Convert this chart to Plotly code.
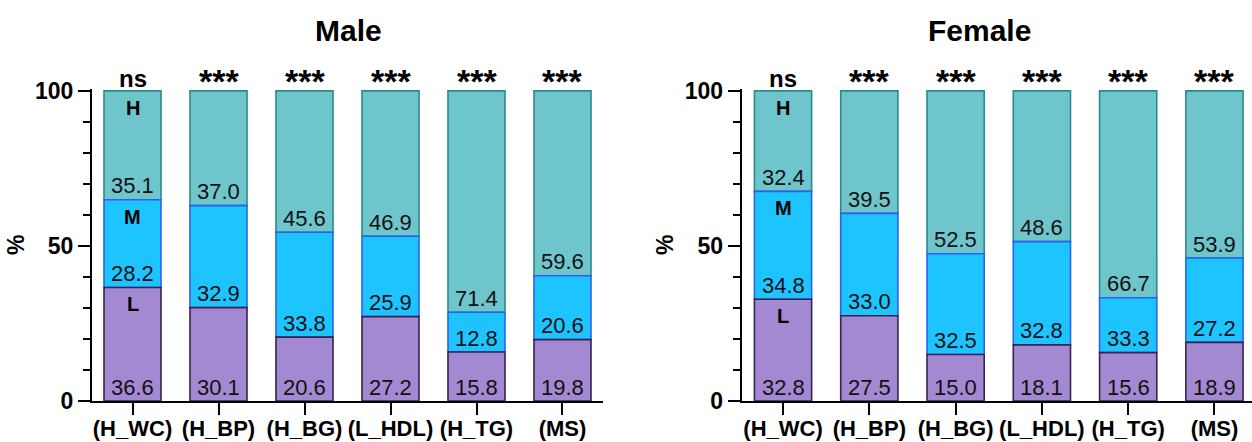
import plotly.graph_objects as go

categories = ["(H_WC)", "(H_BP)", "(H_BG)", "(L_HDL)", "(H_TG)", "(MS)"]
significance = ["ns", "***", "***", "***", "***", "***"]
level_names = ["L", "M", "H"]

male_L = [36.6, 30.1, 20.6, 27.2, 15.8, 19.8]
male_M = [28.2, 32.9, 33.8, 25.9, 12.8, 20.6]
male_H = [35.1, 37.0, 45.6, 46.9, 71.4, 59.6]

female_L = [32.8, 27.5, 15.0, 18.1, 15.6, 18.9]
female_M = [34.8, 33.0, 32.5, 32.8, 33.3, 27.2]
female_H = [32.4, 39.5, 52.5, 48.6, 66.7, 53.9]

W, H = 1252, 442
FONT = "Liberation Sans"

colors = {
    "H": dict(fill="#6fc5cc", line="#2b8a8e"),
    "M": dict(fill="#1ec4ff", line="#2a62f0"),
    "L": dict(fill="#a389d2", line="#38234f"),
}

panels = [
    dict(title="Male", L=male_L, M=male_M, Hh=male_H, xd=[92 / W, 603 / W],
         xr=[-0.471, 5.471], title_x=348, pct_x=16, sfx=""),
    dict(title="Female", L=female_L, M=female_M, Hh=female_H, xd=[741.7 / W, 1.0],
         xr=[-0.479, 5.435], title_x=980, pct_x=665, sfx="2"),
]

ydom = [(H - 401) / H, (H - 89) / H]

fig = go.Figure()
annotations = []
bar_w = 0.663

for p in panels:
    xa = "x" + p["sfx"]
    ya = "y" + p["sfx"]
    L, M, Hh = p["L"], p["M"], p["Hh"]
    h_base = [100 - v for v in Hh]
    m_height = [100 - h - l for h, l in zip(Hh, L)]
    # draw order: H, M, L
    fig.add_trace(go.Bar(x=categories, y=Hh, base=h_base, width=bar_w, xaxis=xa, yaxis=ya,
                         marker=dict(color=colors["H"]["fill"], line=dict(color=colors["H"]["line"], width=1.6)),
                         showlegend=False, hoverinfo="skip"))
    fig.add_trace(go.Bar(x=categories, y=m_height, base=L, width=bar_w, xaxis=xa, yaxis=ya,
                         marker=dict(color=colors["M"]["fill"], line=dict(color=colors["M"]["line"], width=1.6)),
                         showlegend=False, hoverinfo="skip"))
    fig.add_trace(go.Bar(x=categories, y=L, base=[0] * len(L), width=bar_w, xaxis=xa, yaxis=ya,
                         marker=dict(color=colors["L"]["fill"], line=dict(color=colors["L"]["line"], width=1.6)),
                         showlegend=False, hoverinfo="skip"))

    for i, c in enumerate(categories):
        bases = [0, L[i], h_base[i]]
        vals = [L[i], M[i], Hh[i]]
        for b, v in zip(bases, vals):
            annotations.append(dict(x=c, y=b, xref=xa, yref=ya, text=f"{v:.1f}", showarrow=False,
                                    yanchor="middle", yshift=14,
                                    font=dict(family=FONT, size=22, color="#111")))
        sz = 24 if significance[i] == "ns" else 34
        annotations.append(dict(x=c, y=100, xref=xa, yref=ya, text=significance[i], showarrow=False,
                                yanchor="bottom", yshift=-3 if sz == 24 else -11,
                                font=dict(family=FONT, size=sz, color="black", weight="bold")))
    # level letters in first bar
    tops = [L[0], 100 - Hh[0], 100]
    for name, t in zip(level_names, tops):
        annotations.append(dict(x=categories[0], y=t, xref=xa, yref=ya, text=name, showarrow=False,
                                yanchor="middle", yshift=-17,
                                font=dict(family=FONT, size=20, color="black", weight="bold")))
    annotations.append(dict(x=p["title_x"] / W, y=(H - 31) / H, xref="paper", yref="paper", text=p["title"],
                            showarrow=False, xanchor="center", yanchor="middle",
                            font=dict(family=FONT, size=30, color="black", weight="bold")))
    annotations.append(dict(x=p["pct_x"] / W, y=(H - 245) / H, xref="paper", yref="paper", text="%",
                            showarrow=False, xanchor="center", yanchor="middle", textangle=-90,
                            font=dict(family=FONT, size=23, color="black", weight="bold")))

    xaxis = dict(domain=p["xd"], range=p["xr"], anchor=ya, type="category",
                 showline=True, linecolor="black", linewidth=1.6,
                 ticks="outside", ticklen=12, tickwidth=1.6, tickcolor="black",
                 ticklabelstandoff=-5,
                 tickfont=dict(family=FONT, size=22, color="black", weight="bold"),
                 showgrid=False, zeroline=False, fixedrange=True, automargin=False)
    yaxis = dict(domain=ydom, range=[0, 100.6], anchor=xa,
                 showline=True, linecolor="black", linewidth=2,
                 tickvals=[0, 50, 100], ticks="outside", ticklen=12, tickwidth=2, tickcolor="black",
                 minor=dict(dtick=10, tick0=0, ticks="outside", ticklen=7, tickwidth=1.5,
                            tickcolor="black", showgrid=False),
                 tickfont=dict(family=FONT, size=23, color="black", weight="bold"),
                 showgrid=False, zeroline=False, fixedrange=True, automargin=False)
    fig.layout["xaxis" + p["sfx"]] = xaxis
    fig.layout["yaxis" + p["sfx"]] = yaxis

fig.update_layout(width=W, height=H, autosize=False, margin=dict(l=0, r=0, t=0, b=0),
                  barmode="overlay", plot_bgcolor="white", paper_bgcolor="white",
                  annotations=annotations, font=dict(family=FONT, color="black"))

fig.write_html("out.html", config=dict(displayModeBar=False),
               post_script="document.body.style.margin='0';document.body.style.overflow='hidden';")
